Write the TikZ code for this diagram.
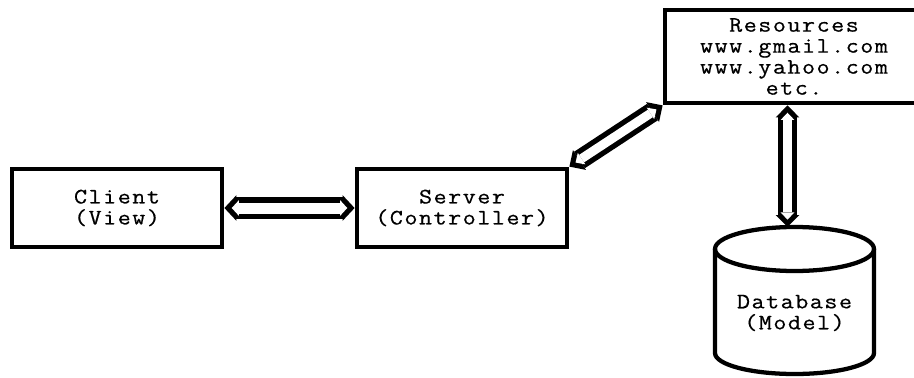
\documentclass[tikz,border=0pt]{standalone}
\usepackage{fontspec}
\setmonofont{Latin Modern Mono}[FakeStretch=1.15, LetterSpace=7, FakeBold=0.6]
\usetikzlibrary{arrows.meta}
\tikzset{
  box/.style={draw, line width=3.6pt, rectangle, inner sep=0pt,
    minimum width=157.5pt, minimum height=58.5pt, align=center,
    font=\ttfamily\fontsize{16.5}{15.75}\selectfont},
  label text/.style={inner sep=0pt, align=center,
    font=\ttfamily\fontsize{16.5}{15.75}\selectfont}
}
% Hollow double-headed connector: a black arrow with a white core.
% #1 start, #2 end, #3 width of the white gap (pt, number only)
\newcommand\dbllink[3]{%
  \pgfmathsetmacro\lkW{#3+8}%
  \pgfmathsetmacro\lkH{#3+11}%
  \pgfmathsetmacro\lkI{#3+3.5}%
  \draw[line width=\lkW pt,
    {Triangle[length=9pt, width=\lkH pt, line width=0pt]}-{Triangle[length=9pt, width=\lkH pt, line width=0pt]}]
    (#1) -- (#2);
  \draw[white, line width=#3pt, shorten <=5.5pt, shorten >=5.5pt,
    {Triangle[length=5.4pt, width=\lkI pt, line width=0pt]}-{Triangle[length=5.4pt, width=\lkI pt, line width=0pt]}]
    (#1) -- (#2);
}
\begin{document}
\begin{tikzpicture}[x=0.75pt, y=-0.75pt]
  % canvas
  \useasboundingbox (0,0) rectangle (914,378);

  % boxes
  \node[box] (client) at (117,208) {Client\\(View)};
  \node[box] (server) at (462,208) {Server\\(Controller)};
  \node[box, minimum width=193.5pt, minimum height=69.75pt] (res) at (794,56.5)
    {Resources\\www.gmail.com\\www.yahoo.com\\etc.};

  % database cylinder (y grows downwards, so the lower rim runs 180 -> 0)
  \draw[line width=3.2pt] (715,249) -- (715,353)
    arc[start angle=180, end angle=0, x radius=79.5, y radius=21]
    -- (874,249);
  \draw[line width=3.2pt] (794.5,249) ellipse[x radius=79.5, y radius=22];
  \node[label text] (db) at (794.5,313) {Database\\(Model)};
  \coordinate (dbtop) at (794.5,227);
  \coordinate (vx) at (787.5,0);
  \coordinate (rsv) at (res.south -| vx);
  \coordinate (dbv) at (dbtop -| vx);

  % connectors
  \dbllink{client}{server}{8.25}
  \dbllink{server.north east}{res.south west}{6.75}
  \dbllink{rsv}{dbv}{6.75}
\end{tikzpicture}
\end{document}
